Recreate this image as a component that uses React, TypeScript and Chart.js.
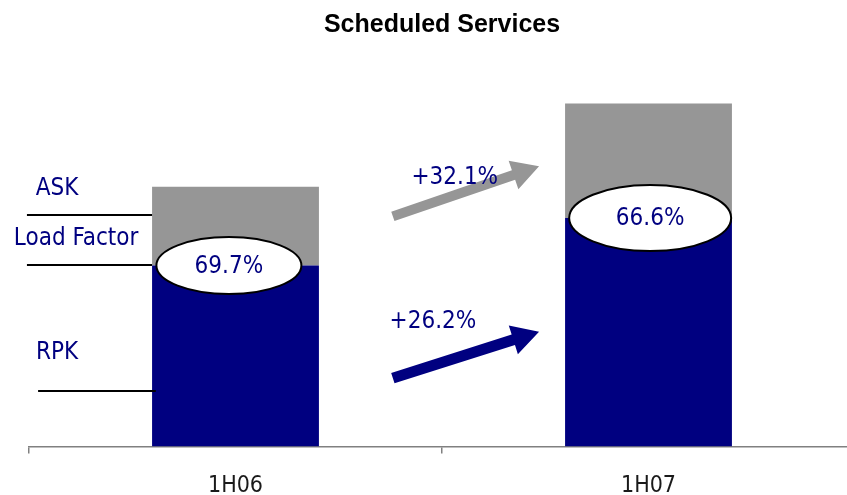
import React, { useEffect, useRef } from "react";
import { Chart, registerables } from "chart.js";

Chart.register(...registerables);

const categories = ["1H06", "1H07"];
const ask = [100, 132.1];
const rpk = [69.7, 87.96];
const loadFactorLabels = ["69.7%", "66.6%"];
const askGrowthLabel = "+32.1%";
const rpkGrowthLabel = "+26.2%";
const sideLabels = ["ASK", "Load Factor", "RPK"];

const NAVY = "#000080";
const GRAY = "#969696";
const FONT = '"DejaVu Sans Condensed", "DejaVu Sans", sans-serif';
const TITLE_FONT = '"Liberation Sans", Arial, sans-serif';

function drawArrow(
  ctx: CanvasRenderingContext2D,
  x1: number, y1: number, x2: number, y2: number,
  sw: number, hl: number, hw: number, color: string
) {
  const ang = Math.atan2(y2 - y1, x2 - x1);
  const len = Math.hypot(x2 - x1, y2 - y1);
  ctx.save();
  ctx.translate(x1, y1);
  ctx.rotate(ang);
  ctx.beginPath();
  ctx.moveTo(0, -sw / 2);
  ctx.lineTo(len - hl, -sw / 2);
  ctx.lineTo(len - hl, -hw / 2);
  ctx.lineTo(len, 0);
  ctx.lineTo(len - hl, hw / 2);
  ctx.lineTo(len - hl, sw / 2);
  ctx.lineTo(0, sw / 2);
  ctx.closePath();
  ctx.fillStyle = color;
  ctx.fill();
  ctx.restore();
}

const annotationPlugin = {
  id: "annotations",
  afterDatasetsDraw(chart: any) {
    const { ctx } = chart;
    const xs = chart.scales.x;
    const ys = chart.scales.y;
    const p0 = xs.getPixelForValue(0);
    const p1 = xs.getPixelForValue(1);
    const X = (f: number) => p0 + f * (p1 - p0);
    const Y = (v: number) => ys.getPixelForValue(v);

    ctx.save();
    // guide lines
    ctx.strokeStyle = "#000000";
    ctx.lineWidth = 2;
    const lines = [
      [-0.505, -0.202, 89.0],
      [-0.505, -0.202, rpk[0]],
      [-0.478, -0.193, 21.4],
    ];
    lines.forEach(([a, b, v]) => {
      const yy = Math.round(Y(v));
      ctx.beginPath();
      ctx.moveTo(X(a), yy);
      ctx.lineTo(X(b), yy);
      ctx.stroke();
    });

    // side labels
    ctx.fillStyle = NAVY;
    ctx.font = `24px ${FONT}`;
    ctx.textAlign = "center";
    ctx.textBaseline = "middle";
    ctx.fillText(sideLabels[0], X(-0.432), Y(99.2));
    ctx.fillText(sideLabels[1], X(-0.386), Y(80.1));
    ctx.fillText(sideLabels[2], X(-0.432), Y(35.9));

    // arrows
    drawArrow(ctx, X(0.381), Y(88.6), X(0.735), Y(107.9), 10, 27, 30, GRAY);
    drawArrow(ctx, X(0.381), Y(26.3), X(0.735), Y(44.2), 11, 27, 30, NAVY);
    ctx.fillStyle = NAVY;
    ctx.fillText(askGrowthLabel, X(0.531), Y(103.5));
    ctx.fillText(rpkGrowthLabel, X(0.478), Y(47.9));

    // ellipses
    const ell = [
      { f: -0.016, rx: 72.5, ry: 28.5 },
      { f: 1.004, rx: 81, ry: 33 },
    ];
    ell.forEach((e, i) => {
      const cx = X(e.f);
      const cy = Y(rpk[i]);
      ctx.beginPath();
      ctx.ellipse(cx, cy, e.rx, e.ry, 0, 0, Math.PI * 2);
      ctx.fillStyle = "#ffffff";
      ctx.fill();
      ctx.lineWidth = 2;
      ctx.strokeStyle = "#000000";
      ctx.stroke();
      ctx.fillStyle = NAVY;
      ctx.fillText(loadFactorLabels[i], cx, cy + 1);
    });
    ctx.restore();
  },
};

export default function App() {
  const ref = useRef<HTMLCanvasElement | null>(null);
  useEffect(() => {
    if (!ref.current) return;
    const chart = new Chart(ref.current, {
      type: "bar",
      data: {
        labels: categories,
        datasets: [
          {
            label: "RPK",
            data: rpk,
            backgroundColor: NAVY,
            borderWidth: 0,
            barPercentage: 0.404,
            categoryPercentage: 1,
          },
          {
            label: "ASK",
            data: ask.map((v, i) => v - rpk[i]),
            backgroundColor: GRAY,
            borderWidth: 0,
            barPercentage: 0.404,
            categoryPercentage: 1,
          },
        ],
      },
      options: {
        animation: false,
        responsive: true,
        maintainAspectRatio: false,
        layout: { padding: { left: 29, right: 25, top: 0, bottom: 0 } },
        plugins: {
          legend: { display: false },
          tooltip: { enabled: false },
          title: {
            display: true,
            text: "Scheduled Services",
            color: "#000000",
            font: { family: TITLE_FONT, size: 25, weight: "bold", lineHeight: 1.2 },
            padding: { top: 10, bottom: 17 },
          },
        },
        scales: {
          x: {
            stacked: true,
            grid: {
              display: true,
              drawOnChartArea: false,
              drawTicks: true,
              tickLength: 7,
              color: "#808080",
              offset: true,
              lineWidth: 1.5,
            },
            border: { display: true, color: "#808080", width: 1.5 },
            ticks: {
              color: "#1a1a1a",
              font: { family: FONT, size: 23 },
              padding: 18.5,
            },
          },
          y: {
            stacked: true,
            display: false,
            min: 0,
            max: 150,
          },
        },
      },
      plugins: [annotationPlugin],
    });
    return () => chart.destroy();
  }, []);
  return (
    <div
      style={{
        position: "absolute",
        left: 0,
        top: 0,
        width: 847,
        height: 495,
        overflow: "hidden",
        background: "#ffffff",
      }}
    >
      <div style={{ position: "relative", width: 880, height: 518 }}>
        <canvas ref={ref} />
      </div>
    </div>
  );
}
